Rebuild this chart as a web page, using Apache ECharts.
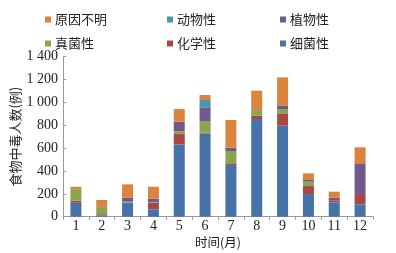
<!DOCTYPE html>
<html><head><meta charset="utf-8">
<script src="https://cdn.jsdelivr.net/npm/echarts@6/dist/echarts.min.js"></script>
<style>html,body{margin:0;padding:0;background:#fff}#c{width:396px;height:253px}</style>
</head><body><div id="c"></div>
<script>
const months = ['1','2','3','4','5','6','7','8','9','10','11','12'];
const yTicks = ['0','200','400','600','800','1 000','1 200','1 400'];
const bacterial = [122, 10, 122, 64, 633, 729, 452, 855, 796, 198, 125, 108];
const chemical  = [18, 12, 3, 58, 90, 6, 15, 29, 108, 70, 15, 90];
const fungal    = [99, 62, 6, 5, 24, 102, 108, 44, 38, 38, 0, 0];
const plant     = [3, 2, 35, 30, 84, 120, 29, 5, 32, 15, 26, 263];
const animal    = [0, 0, 0, 0, 0, 64, 0, 0, 0, 0, 0, 0];
const unknown   = [20, 60, 117, 105, 111, 44, 242, 170, 245, 58, 53, 146];

const serif = '"Liberation Serif", "Times New Roman", serif';
const cjk = '"Noto Sans CJK SC", sans-serif';
const colors = {
  '细菌性': '#4573A7', '化学性': '#AA4643', '真菌性': '#89A54E',
  '植物性': '#71588F', '动物性': '#4198AF', '原因不明': '#DB843D'
};
const order = [['细菌性', bacterial], ['化学性', chemical], ['真菌性', fungal], ['植物性', plant], ['动物性', animal], ['原因不明', unknown]];
const series = order.map(([name, data]) => ({
  name, type: 'bar', stack: 'a', data, barWidth: 11,
  itemStyle: { color: colors[name] }
}));
const legendRows = [['原因不明', '动物性', '植物性'], ['真菌性', '化学性', '细菌性']];
const legends = [];
const xs = [40, 162, 275];
legendRows.forEach((row, r) => row.forEach((name, i) => legends.push({
  data: [name], left: xs[i], top: 8 + r * 24, icon: 'rect', itemWidth: 6, itemHeight: 6, itemGap: 4,
  textStyle: { fontFamily: cjk, fontSize: 13, color: '#222', padding: [0,0,0,-1] }, selectedMode: false
})));
const chart = echarts.init(document.getElementById('c'), null, { renderer: 'canvas' });
chart.setOption({
  animation: false,
  legend: legends,
  grid: { left: 63, right: 23, top: 56.7, bottom: 36.3, containLabel: false, outerBoundsMode: 'none' },
  xAxis: {
    type: 'category', data: months,
    name: '时间(月)', nameLocation: 'middle', nameGap: 19, nameMoveOverlap: false,
    nameTextStyle: { fontFamily: cjk, fontSize: 12.5, color: '#222' },
    axisLine: { lineStyle: { color: '#999' } },
    axisTick: { show: true, length: 3, lineStyle: { color: '#999' } },
    axisLabel: { fontFamily: serif, fontSize: 14, color: '#222', margin: 3 }
  },
  yAxis: {
    type: 'value', min: 0, max: 1400, interval: 200,
    name: '食物中毒人数(例)', nameLocation: 'middle', nameGap: 41, nameMoveOverlap: false,
    nameTextStyle: { fontFamily: cjk, fontSize: 13, color: '#222' },
    axisLine: { show: true, lineStyle: { color: '#999' } },
    axisTick: { show: true, inside: true, length: 3, lineStyle: { color: '#999' } },
    splitLine: { show: false },
    axisLabel: { fontFamily: serif, fontSize: 14, color: '#222', margin: 5,
      formatter: v => yTicks[Math.round(v / 200)] }
  },
  series
});
</script></body></html>
